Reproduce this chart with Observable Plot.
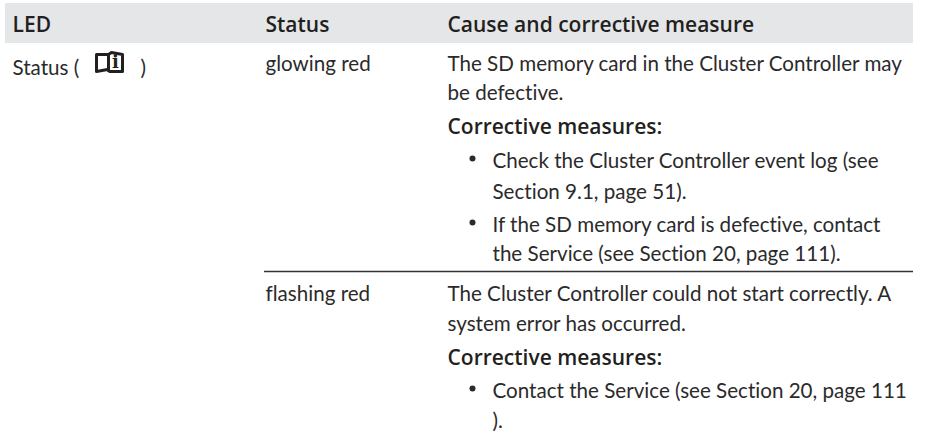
<!DOCTYPE html>
<html>
<head>
<meta charset="utf-8">
<script src="https://cdn.jsdelivr.net/npm/d3@7"></script>
<script src="https://cdn.jsdelivr.net/npm/@observablehq/plot@0.6"></script>
<style>
html,body{margin:0;padding:0;background:#fff;}
svg{display:block;font-variant-ligatures:none;}
</style>
</head>
<body>
<div id="chart"></div>
<script>
// Table content
const headers = ["LED", "Status", "Cause and corrective measure"];
const ledCell = ["Status (", ")"];
const statusCells = ["glowing red", "flashing red"];
const causeFirst = ["The SD memory card in the Cluster Controller may", "be defective."];
const causeSecond = ["The Cluster Controller could not start correctly. A", "system error has occurred."];
const correctiveLabel = "Corrective measures:";
const measuresFirst = ["Check the Cluster Controller event log (see", "Section 9.1, page 51).", "If the SD memory card is defective, contact", "the Service (see Section 20, page 111)."];
const measuresSecond = ["Contact the Service (see Section 20, page 111", ")."];

// Table geometry, in table units
const columnEdges = {led: 12, status: 265, cause: 447, bullet: 472, indent: 492, close: 140, left: 5, right: 913};
const headerBand = {top: 3, bottom: 43, baseline: 31};
const firstRowBaselines = {lead: [70, 99], label: 133, items: [167, 198, 231, 260], led: 74};
const divider = 271;
const secondRowBaselines = {lead: [300, 330], label: 364, items: [397, 427]};

const cells = [
  ...headers.map((text, i) => ({text, x: [columnEdges.led, columnEdges.status, columnEdges.cause][i], y: headerBand.baseline, bold: true})),
  {text: ledCell[0], x: columnEdges.led, y: firstRowBaselines.led},
  {text: ledCell[1], x: columnEdges.close, y: firstRowBaselines.led},
  {text: statusCells[0], x: columnEdges.status, y: firstRowBaselines.lead[0]},
  {text: statusCells[1], x: columnEdges.status, y: secondRowBaselines.lead[0]},
  ...causeFirst.map((text, i) => ({text, x: columnEdges.cause, y: firstRowBaselines.lead[i]})),
  {text: correctiveLabel, x: columnEdges.cause, y: firstRowBaselines.label, bold: true},
  ...measuresFirst.map((text, i) => ({text, x: columnEdges.indent, y: firstRowBaselines.items[i]})),
  ...causeSecond.map((text, i) => ({text, x: columnEdges.cause, y: secondRowBaselines.lead[i]})),
  {text: correctiveLabel, x: columnEdges.cause, y: secondRowBaselines.label, bold: true},
  ...measuresSecond.map((text, i) => ({text, x: columnEdges.indent, y: secondRowBaselines.items[i]}))
];
const bullets = [
  {x: columnEdges.bullet, y: firstRowBaselines.items[0] - 9},
  {x: columnEdges.bullet, y: firstRowBaselines.items[2] - 9},
  {x: columnEdges.bullet, y: secondRowBaselines.items[0] - 9}
];

// Book symbol outline
const bookPaths = [
  [[96, 54], [96, 71], [107, 69], [109, 71], [122, 71], [122, 54], [111, 52], [108, 54], [96, 54]],
  [[108, 54], [108, 70]]
];
const bookLines = bookPaths.flatMap((p, k) => p.map(([x, y]) => ({x, y, k})));
const textFont = "Lato, 'Noto Sans', sans-serif";

const chart = Plot.plot({
  width: 930, height: 437,
  margin: 0,
  x: {domain: [0, 930], range: [0, 930], axis: null},
  y: {domain: [0, 437], range: [0, 437], axis: null},
  style: {background: "#fff", fontFamily: textFont},
  marks: [
    Plot.rect([headerBand], {x1: columnEdges.left, x2: columnEdges.right, y1: "top", y2: "bottom", fill: "#e5e6e8"}),
    Plot.ruleY([divider], {x1: columnEdges.status - 1, x2: columnEdges.right, stroke: "#333", strokeWidth: 1.5}),
    Plot.text(cells.filter(d => !d.bold), {x: "x", y: "y", text: "text", textAnchor: "start", lineAnchor: "bottom", fontSize: 20.6, fill: "#2b2a2b"}),
    Plot.text(cells.filter(d => d.bold), {x: "x", y: "y", text: "text", textAnchor: "start", lineAnchor: "bottom", fontSize: 21, fontFamily: "'Open Sans', sans-serif", fontWeight: 600, fill: "#231f20"}),
    Plot.dot(bullets, {x: "x", y: "y", r: 3, fill: "#2b2a2b"}),
    Plot.line(bookLines, {x: "x", y: "y", z: "k", stroke: "#231f20", strokeWidth: 3, curve: "linear"}),
    Plot.text(["i"], {x: 115, y: 62, text: d => d, fontSize: 18, fontFamily: "'DejaVu Serif', serif", fontWeight: 700, fill: "#231f20"})
  ]
});
document.getElementById("chart").append(chart);
</script>
</body>
</html>
